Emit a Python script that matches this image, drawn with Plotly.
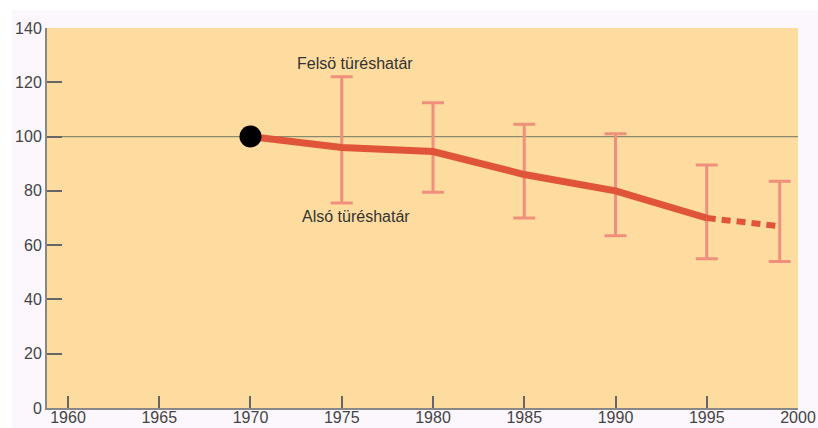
import plotly.graph_objects as go

years_solid = [1970, 1975, 1980, 1985, 1990, 1995]
values_solid = [100, 96, 94.5, 86, 80, 70]
years_dash = [1995, 1999]
values_dash = [70, 67]
err_years = [1975, 1980, 1985, 1990, 1995, 1999]
err_center = [96, 94.5, 86, 80, 70, 67]
err_upper = [122, 112.5, 104.5, 101, 89.5, 83.5]
err_lower = [75.5, 79.5, 70, 63.5, 55, 54]
x_ticks = [1960, 1965, 1970, 1975, 1980, 1985, 1990, 1995, 2000]
y_ticks = [0, 20, 40, 60, 80, 100, 120, 140]
label_upper = "Felsö türéshatár"
label_lower = "Alsó türéshatár"

W, H = 818, 428
L, R, T, B = 47, 20, 28, 20
pw, ph = W - L - R, H - T - B

fig = go.Figure()

fig.add_trace(go.Scatter(
    x=err_years, y=err_center, mode="markers",
    marker=dict(size=1, opacity=0),
    error_y=dict(type="data", symmetric=False,
                 array=[u - c for u, c in zip(err_upper, err_center)],
                 arrayminus=[c - l for l, c in zip(err_lower, err_center)],
                 color="#f0907c", thickness=3, width=11),
    showlegend=False, hoverinfo="skip"))

fig.add_trace(go.Scatter(
    x=years_solid, y=values_solid, mode="lines",
    line=dict(color="#e0553a", width=7), showlegend=False))
fig.add_trace(go.Scatter(
    x=years_dash, y=values_dash, mode="lines",
    line=dict(color="#e0553a", width=6, dash="9px,6px"), showlegend=False))
fig.add_trace(go.Scatter(
    x=[years_solid[0]], y=[values_solid[0]], mode="markers",
    marker=dict(color="black", size=22), showlegend=False))

fig.add_hline(y=100, line=dict(color="#8a8a70", width=1.2), layer="below")

# white border strips at top and left of the page (as in the reference)
fig.add_shape(type="rect", xref="paper", yref="paper", layer="below",
              x0=-L / pw, x1=(12 - L) / pw, y0=-B / ph, y1=(H - B) / ph,
              fillcolor="white", line=dict(width=0))
fig.add_shape(type="rect", xref="paper", yref="paper", layer="below",
              x0=-L / pw, x1=1 + R / pw, y0=(H - B - 10) / ph, y1=(H - B) / ph,
              fillcolor="white", line=dict(width=0))

fig.add_annotation(x=1975.7, y=127, text=label_upper, showarrow=False,
                   font=dict(size=16, color="#333333", family="Liberation Sans, Arial"))
fig.add_annotation(x=1975.8, y=70.5, text=label_lower, showarrow=False,
                   font=dict(size=16, color="#333333", family="Liberation Sans, Arial"))

fig.update_layout(
    width=W, height=H,
    margin=dict(l=L, r=R, t=T, b=B),
    paper_bgcolor="#fcf7fd",
    plot_bgcolor="#fedc9f",
    font=dict(family="Liberation Sans, Arial", size=16, color="#444444"),
    xaxis=dict(range=[1958.85, 2000], tickvals=x_ticks, ticks="inside", ticklen=12,
               tickcolor="#666666", tickwidth=1.5, showgrid=False, zeroline=False,
               showline=True, linecolor="#888888", linewidth=2, tickfont=dict(size=16),
               ticklabelstandoff=-6, automargin=False),
    yaxis=dict(range=[0, 140], tickvals=y_ticks, ticks="inside", ticklen=15,
               tickcolor="#666666", tickwidth=1.5, showgrid=False, zeroline=False,
               showline=True, linecolor="#888888", linewidth=2, tickfont=dict(size=16),
               automargin=False),
)

fig.write_html("out.html", config={"displayModeBar": False},
               post_script="document.body.style.margin='0';document.body.style.overflow='hidden';")
